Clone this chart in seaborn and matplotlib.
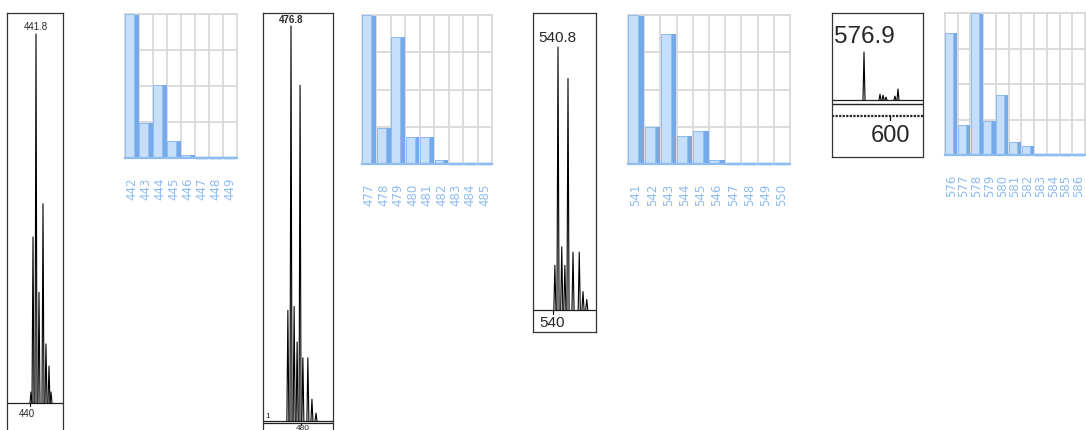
import numpy as np
import pandas as pd
import matplotlib
matplotlib.use("Agg")
import matplotlib.pyplot as plt
import seaborn as sns

# ---------------- data ----------------
# isotope-distribution bar charts (relative intensity, %)
cats1 = ["442", "443", "444", "445", "446", "447", "448", "449"]
vals1 = [100, 24, 51, 12, 2, 0, 0, 0]
cats2 = ["477", "478", "479", "480", "481", "482", "483", "484", "485"]
vals2 = [100, 24, 85, 18, 18, 3, 0, 0, 0]
cats3 = ["541", "542", "543", "544", "545", "546", "547", "548", "549", "550"]
vals3 = [100, 25, 87, 19, 22, 3, 0, 0, 0, 0]
cats4 = ["576", "577", "578", "579", "580", "581", "582", "583", "584", "585", "586"]
vals4 = [86, 21, 100, 24, 42, 9, 6, 0, 0, 0, 0]

# measured spectra (peak m/z, relative intensity %)
spec1_mz = [440.3, 440.9, 441.8, 442.7, 443.9, 444.8, 445.7, 446.3]
spec1_int = [3, 45, 100, 30, 54, 16, 10, 3]
spec1_label = "441.8"
spec1_tick = 440

spec2_mz = [475.8, 476.8, 477.8, 478.75, 479.7, 480.6, 482.2, 483.5, 484.8]
spec2_int = [28, 100, 29, 20, 85, 16, 16, 5.5, 2]
spec2_label = "476.8"
spec2_tick = 480

spec3_mz = [540.3, 540.8, 541.4, 541.9, 542.4, 543.2, 544.2, 544.8, 545.4]
spec3_int = [17, 100, 24, 17, 88, 22, 22, 7, 4]
spec3_label = "540.8"
spec3_tick = 540

spec4_mz = [576.9, 591.1, 593.8, 596.4, 604.4, 607.1]
spec4_int = [100, 12, 10, 6, 8, 23]
spec4_label = "576.9"
spec4_tick = 600

# ---------------- style ----------------
sns.set_style("white")
plt.rcParams["font.family"] = ["DejaVu Sans"]

W, H = 1086, 431
fig = plt.figure(figsize=(W / 100, H / 100), dpi=100)


def px_axes(x0, y0, x1, y1):
    return fig.add_axes([x0 / W, 1 - y1 / H, (x1 - x0) / W, (y1 - y0) / H])


LIGHT = "#c5defa"
DARK = "#74aaea"
EDGE = "#8fbdf0"
PALE = "#cfe3fb"
LABEL = "#8dbbf0"
GRID = "#d9d9d9"


def bar_chart(box, cats, vals):
    ax = px_axes(*box)
    n = len(cats)
    df = pd.DataFrame({"mz": cats, "v": vals})
    sns.barplot(data=df, x="mz", y="v", color=DARK, saturation=1,
                ax=ax, linewidth=0)
    dark = list(ax.patches)
    pos = np.arange(n)
    light = ax.bar(pos - 0.48, vals, width=0.62, align="edge", color=LIGHT,
                   edgecolor=EDGE, linewidth=0.7, zorder=3)
    for i, (v, d, l) in enumerate(zip(vals, dark, light)):
        d.set_x(i - 0.48)
        d.set_width(0.96)
        d.set_zorder(2)
        if v == 0:
            l.set_visible(False)
            d.set_x(i - 0.4)
            d.set_width(0.8)
            d.set_facecolor(PALE)
            d.set_edgecolor(PALE)
            d.set_linewidth(2.6)
            d.set_clip_on(False)
            d.set_zorder(4)
    ax.set_xlim(-0.5, n - 0.5)
    ax.set_ylim(0, 100)
    ax.set_yticks([0, 25, 50, 75, 100])
    ax.set_yticklabels([])
    ax.set_xticks(pos)
    ax.set_xticklabels(cats)
    ax.set_xticks(pos[:-1] + 0.5, minor=True)
    ax.grid(True, axis="y", color=GRID, lw=1.3)
    ax.grid(True, axis="x", which="minor", color=GRID, lw=1.3)
    ax.set_axisbelow(True)
    ax.set_xlabel("")
    ax.set_ylabel("")
    ax.tick_params(axis="both", which="both", length=0)
    ax.tick_params(axis="x", pad=13.5, labelsize=8.5, labelcolor=LABEL,
                   labelrotation=90)
    for s in ("left", "top", "right"):
        ax.spines[s].set_color(GRID)
        ax.spines[s].set_linewidth(1.3)
    ax.spines["bottom"].set_color(EDGE)
    ax.spines["bottom"].set_linewidth(1.6)
    ax.spines["bottom"].set_zorder(5)
    return ax


def spectrum(box, ref_px, ref_mz, ppu, base_y, top_y, mz, inten, halfw,
             hide_bottom=False):
    x0, y0, x1, y1 = box
    ax = px_axes(x0, y0, x1, y1)
    ax.set_xlim(ref_mz - (ref_px - x0) / ppu, ref_mz + (x1 - ref_px) / ppu)
    upp = 100.0 / (base_y - top_y)
    ax.set_ylim(-(y1 - base_y) * upp, (base_y - y0) * upp)
    ax.axhline(0, color="#222222", lw=0.9, zorder=2)
    for m, h in zip(mz, inten):
        ax.plot([m - halfw, m, m + halfw], [0, h, 0], color="black", lw=0.8,
                zorder=3)
    ax.set_xticks([])
    ax.set_yticks([])
    for s in ax.spines.values():
        s.set_color("#333333")
        s.set_linewidth(0.9)
    if hide_bottom:
        ax.spines["bottom"].set_visible(False)
    return ax, upp


LAB = ["Liberation Sans", "DejaVu Sans"]

# ---- spectrum 1 ----
ax, upp = spectrum((7, 14, 63, 431), 36, 441.8, 3.33, 404, 35,
                   spec1_mz, spec1_int, 0.3, hide_bottom=True)
ax.annotate(spec1_label, xy=(441.8, 100), xytext=(0, 2.5),
            textcoords="offset points", ha="center", va="bottom",
            fontsize=7, family=LAB)
ax.plot([spec1_tick, spec1_tick], [0, -3 * upp], color="black", lw=0.8)
ax.annotate(str(spec1_tick), xy=(spec1_tick, 0), xytext=(-2, -3.5),
            textcoords="offset points", ha="center", va="top",
            fontsize=7, family=LAB)

# ---- spectrum 2 ----
ax, upp = spectrum((263, 14, 333, 431), 291, 476.8, 3.125, 422, 27,
                   spec2_mz, spec2_int, 0.32, hide_bottom=True)
ax.annotate(spec2_label, xy=(476.8, 100), xytext=(0, 1.5),
            textcoords="offset points", ha="center", va="bottom",
            fontsize=7, family=LAB, weight="bold")
ax.axhline(-2 * upp, color="#222222", lw=0.9)
ax.plot([spec2_tick, spec2_tick], [-2 * upp, -3.5 * upp], color="black", lw=0.8)
ax.annotate(str(spec2_tick), xy=(spec2_tick, -2 * upp), xytext=(1, -0.6),
            textcoords="offset points", ha="center", va="top",
            fontsize=6, family=LAB, annotation_clip=False)
ax.annotate("1", xy=(ax.get_xlim()[0], 0), xytext=(1.5, 1.5),
            textcoords="offset points", ha="left", va="bottom",
            fontsize=6, family=LAB)

# ---- spectrum 3 ----
ax, upp = spectrum((533, 14, 596, 333), 558, 540.8, 6.25, 311, 48,
                   spec3_mz, spec3_int, 0.17)
ax.annotate(spec3_label, xy=(540.8, 100), xytext=(-0.5, 2),
            textcoords="offset points", ha="center", va="bottom",
            fontsize=11, family=LAB)
ax.plot([spec3_tick, spec3_tick], [0, -4 * upp], color="black", lw=0.8)
ax.annotate(str(spec3_tick), xy=(spec3_tick, 0), xytext=(-0.5, -3.5),
            textcoords="offset points", ha="center", va="top",
            fontsize=11, family=LAB)

# ---- spectrum 4 ----
ax, upp = spectrum((832, 14, 923, 158), 864, 576.9, 1.126, 101, 53,
                   spec4_mz, spec4_int, 0.9)
ax.annotate(spec4_label, xy=(576.9, 100), xytext=(0, 3.5),
            textcoords="offset points", ha="center", va="bottom",
            fontsize=17.5, family=LAB)
ax.axhline(-4 * upp, color="#222222", lw=1.0)
ax.axhline(-16 * upp, color="#222222", lw=1.6, ls=(0, (1, 0.6)))
ax.plot([spec4_tick, spec4_tick], [-16 * upp, -20 * upp], color="black", lw=0.9)
ax.annotate(str(spec4_tick), xy=(spec4_tick, -16 * upp), xytext=(0.5, -6),
            textcoords="offset points", ha="center", va="top",
            fontsize=17, family=LAB)

# ---- bar charts ----
bar_chart((125, 15, 237, 159), cats1, vals1)
bar_chart((362, 16, 492, 165), cats2, vals2)
bar_chart((628, 16, 790, 165), cats3, vals3)
bar_chart((945, 14, 1085, 156), cats4, vals4)

fig.savefig("out.png", dpi=100, facecolor="white")
